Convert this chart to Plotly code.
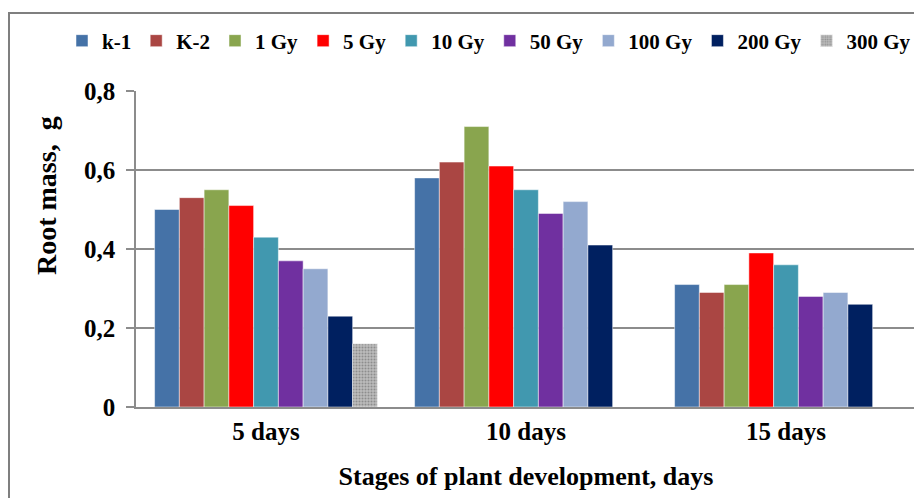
import plotly.graph_objects as go

categories = ["5 days", "10 days", "15 days"]
series_names = ["k-1", "K-2", "1 Gy", "5 Gy", "10 Gy", "50 Gy", "100 Gy", "200 Gy", "300 Gy"]
k1 = [0.50, 0.58, 0.31]
k2 = [0.53, 0.62, 0.29]
gy1 = [0.55, 0.71, 0.31]
gy5 = [0.51, 0.61, 0.39]
gy10 = [0.43, 0.55, 0.36]
gy50 = [0.37, 0.49, 0.28]
gy100 = [0.35, 0.52, 0.29]
gy200 = [0.23, 0.41, 0.26]
gy300 = [0.16, None, None]
colors = ["#4572A7", "#AA4643", "#89A54E", "#FF0000", "#4198AF", "#7030A0", "#93A9CF", "#002060", "#B4B4B4"]

values = [k1, k2, gy1, gy5, gy10, gy50, gy100, gy200, gy300]
font_family = "Liberation Serif, Times New Roman, serif"

# page offset of the figure (browser body margin)
OFF = 8
PAGE_W, PAGE_H = 922, 498
W, H = PAGE_W - OFF, PAGE_H - OFF
# plot area in page pixels
PX0, PX1, PY0, PY1 = 136, 916, 91, 407
L, T = PX0 - OFF, PY0 - OFF
R = W + OFF - PX1
B = H + OFF - PY1
PW, PH = PX1 - PX0, PY1 - PY0

def px_x(x):
    return (x - PX0) / PW

def px_y(y):
    return (PY1 - y) / PH

fig = go.Figure()
for name, vals, col in zip(series_names, values, colors):
    marker = dict(color=col, line=dict(color="rgba(255,255,255,0.7)", width=0.7))
    if name == "300 Gy":
        marker["pattern"] = dict(shape=".", bgcolor="#BDBDBD", fgcolor="#5E5E5E", size=3, solidity=0.4)
    fig.add_trace(go.Bar(name=name, x=categories, y=vals, marker=marker))

fig.update_layout(
    width=W, height=H,
    barmode="group", bargap=0.143, bargroupgap=0,
    paper_bgcolor="white", plot_bgcolor="white",
    margin=dict(l=L, r=R, t=T, b=B, autoexpand=False),
    separators=", ",
    font=dict(family=font_family, color="black", size=16, weight="bold"),
    legend=dict(orientation="h", x=px_x(62), xanchor="left", y=px_y(41), yanchor="middle",
                font=dict(size=21, family=font_family, weight="bold"),
                itemwidth=30, traceorder="normal", itemclick=False),
    showlegend=True,
)
fig.update_yaxes(range=[0, 0.8], dtick=0.2, showgrid=True, gridcolor="#8C8C8C", gridwidth=1.5,
                 showline=True, linecolor="#8C8C8C", linewidth=1.5,
                 ticks="outside", ticklen=8, tickcolor="#8C8C8C", tickwidth=1.5,
                 ticklabelstandoff=6, automargin=False,
                 tickfont=dict(size=25, family=font_family, weight="bold"),
                 zeroline=False)
fig.update_xaxes(showline=True, linecolor="#8C8C8C", linewidth=2, ticks="",
                 ticklabelstandoff=1, automargin=False,
                 tickfont=dict(size=25, family=font_family, weight="bold"),
                 title=dict(text="Stages of plant development, days", standoff=23,
                            font=dict(size=26, family=font_family, weight="bold")))

fig.add_annotation(text="Root mass,  g", textangle=-90, xref="paper", yref="paper",
                   x=px_x(46), y=px_y(196), xanchor="center", yanchor="middle", showarrow=False,
                   font=dict(size=28, family=font_family, weight="bold", color="black"))

# outer chart frame (partially visible, as in the reference)
fig.add_shape(type="rect", xref="paper", yref="paper",
              x0=px_x(9), x1=1.2, y0=-0.5, y1=px_y(13),
              line=dict(color="#7F7F7F", width=2), fillcolor="rgba(0,0,0,0)", layer="below")

fig.write_html("out.html")
